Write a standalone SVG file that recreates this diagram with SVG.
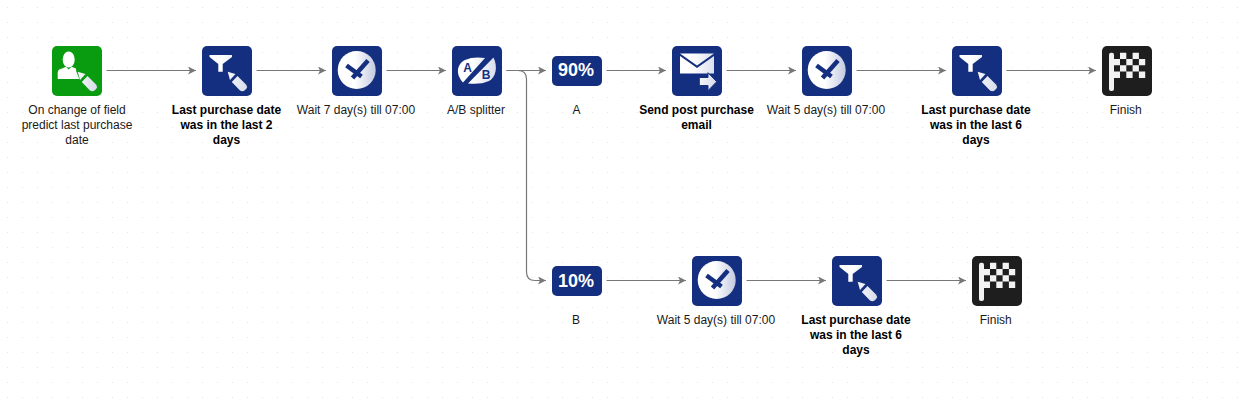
<svg xmlns="http://www.w3.org/2000/svg" width="1250" height="407" viewBox="0 0 1250 407">
<style>
.t{font-family:"Liberation Sans",Arial,sans-serif;font-size:12px;fill:#1a1a1a;text-anchor:middle}
.b{font-weight:bold;fill:#000}
.p{font-family:"Liberation Sans",Arial,sans-serif;font-size:18px;font-weight:bold;fill:#fff;text-anchor:middle}
.l{font-family:"Liberation Sans",Arial,sans-serif;font-size:12px;font-weight:bold;fill:#152f80;text-anchor:middle}
.c{fill:none;stroke:#777;stroke-width:1.2;marker-end:url(#arrow)}
.blue{fill:#152f80}
.w{fill:url(#gu)}
.h{fill:none;stroke:#152f80;stroke-width:4.500}
</style>
<defs>
<pattern id="dots" width="15" height="15" patternUnits="userSpaceOnUse"><rect x="7" y="7" width="1" height="1" fill="#e4e4e4"/></pattern>
<linearGradient id="g" x1="0" y1="0" x2="1" y2="0"><stop offset="0.45" stop-color="#fff"/><stop offset="1" stop-color="#c3cadf"/></linearGradient>
<linearGradient id="gu" gradientUnits="userSpaceOnUse" x1="0" y1="0" x2="50" y2="0"><stop offset="0.4" stop-color="#fff"/><stop offset="1" stop-color="#cfd5e6"/></linearGradient>
<marker id="arrow" markerUnits="userSpaceOnUse" markerWidth="10" markerHeight="10" refX="8" refY="4" orient="auto"><path d="M0 0L8 4L0 8L2 4Z" fill="#777"/></marker>
<g id="pencil"><path d="M25.700 25.700L33.500 28L28 34Z" class="w"/><path d="M35.500 30L29.800 36L38 44.500Q40.500 46 42.800 44.300L44.300 42.800Q45.800 40.500 44 38.500Z" class="w"/></g>
<g id="i-trigger"><rect width="50" height="50" rx="5" fill="#0a9c10"/><ellipse cx="16.700" cy="13.500" rx="6" ry="8" class="w"/><path d="M5.700 33V26.500Q6 23 10 22.500L14 20.800L16.700 23.500L19.500 20.800L24 22.500L24 24L29 33Z" class="w"/><path d="M24 24.500L34.500 27.500L28.500 36Z" fill="#0a9c10"/><use href="#pencil"/></g>
<g id="i-filter"><rect width="50" height="50" rx="5" class="blue"/><path d="M7.500 9H30V11L20.700 18V25.700H16.300V18L7.500 11Z" class="w"/><use href="#pencil"/></g>
<g id="i-clock"><rect width="50" height="50" rx="5" class="blue"/><circle cx="24.700" cy="24" r="19" fill="url(#g)"/><path class="h" d="M36 14.500L20.500 32"/><path class="h" d="M14.500 19.500L29.500 30.500"/></g>
<g id="i-ab"><rect width="50" height="50" rx="5" class="blue"/><path d="M11 36.500C3 28 5 18 13 14C19 11 27 11 33 12Z" class="w"/><path d="M41.500 11.500C46 21 44 31 37 35C30 38 24 38 16 37.500Z" class="w"/><text class="l" x="15.500" y="26">A</text><text class="l" x="34" y="33">B</text></g>
<g id="i-mail"><rect width="50" height="50" rx="5" class="blue"/><path d="M8 7.500H42L25 19.500Z" class="w"/><path d="M8 10L25 22L42 10V27.500H8Z" class="w"/><path d="M27.300 31.500H36V26.700L44.700 35.700L36 44.700V39.500H27.300Z" class="w" stroke="#152f80" stroke-width="1"/></g>
<g id="i-flag"><rect width="50" height="50" rx="5" fill="#1e1e1e"/><rect x="7" y="6.700" width="5" height="38.300" rx="2" fill="#f2f2f2"/><path fill="#f2f2f2" d="M18 6.700h6.300v6.300h-6.300zM30.600 6.700h6.300v6.300h-6.300zM12 13h6v6.300h-6zM24.300 13h6.300v6.300h-6.300zM36.900 13h6.300v6.300h-6.300zM18 19.300h6.300v6.300h-6.300zM30.600 19.300h6.300v6.300h-6.300zM12 25.600h6v6.300h-6zM24.300 25.600h6.300v6.300h-6.300zM36.900 25.600h6.300v6.300h-6.300z"/></g>
</defs>
<rect width="1250" height="407" fill="#fff"/>
<rect width="1250" height="407" fill="url(#dots)"/>
<g id="connectors">
<path class="c" d="M106.500 70.500H196"/>
<path class="c" d="M256.500 70.500H326"/>
<path class="c" d="M386.500 70.500H446"/>
<path class="c" d="M506.500 70.500H546"/>
<path class="c" d="M506.500 70.500H518Q526.500 70.500 526.500 79V272Q526.500 280.500 535 280.500H546"/>
<path class="c" d="M606.500 70.500H666"/>
<path class="c" d="M726.500 70.500H796"/>
<path class="c" d="M856.500 70.500H946"/>
<path class="c" d="M1006.500 70.500H1096"/>
<path class="c" d="M606.500 280.500H686"/>
<path class="c" d="M746.500 280.500H826"/>
<path class="c" d="M886.500 280.500H966"/>
</g>
<g id="n1"><use href="#i-trigger" x="52" y="46"/><text class="t" x="77" y="114">On change of field</text><text class="t" x="77" y="129">predict last purchase</text><text class="t" x="77" y="144">date</text></g>
<g id="n2"><use href="#i-filter" x="202" y="46"/><text class="t b" x="226.500" y="114">Last purchase date</text><text class="t b" x="226.500" y="129">was in the last 2</text><text class="t b" x="226.500" y="144">days</text></g>
<g id="n3"><use href="#i-clock" x="332" y="46"/><text class="t" x="356" y="114">Wait 7 day(s) till 07:00</text></g>
<g id="n4"><use href="#i-ab" x="452" y="46"/><text class="t" x="476" y="114">A/B splitter</text></g>
<g id="n5"><rect x="552" y="56" width="50" height="30" rx="5" class="blue"/><text class="p" x="576" y="76">90%</text><text class="t" x="576.500" y="114">A</text></g>
<g id="n6"><use href="#i-mail" x="672" y="46"/><text class="t b" x="696.500" y="114">Send post purchase</text><text class="t b" x="696.500" y="129">email</text></g>
<g id="n7"><use href="#i-clock" x="802" y="46"/><text class="t" x="826" y="114">Wait 5 day(s) till 07:00</text></g>
<g id="n8"><use href="#i-filter" x="952" y="46"/><text class="t b" x="976" y="114">Last purchase date</text><text class="t b" x="976" y="129">was in the last 6</text><text class="t b" x="976" y="144">days</text></g>
<g id="n9"><use href="#i-flag" x="1102" y="46"/><text class="t" x="1125.800" y="114">Finish</text></g>
<g id="n10"><rect x="552" y="266" width="50" height="30" rx="5" class="blue"/><text class="p" x="576" y="286.500">10%</text><text class="t" x="576" y="324">B</text></g>
<g id="n11"><use href="#i-clock" x="692" y="256"/><text class="t" x="716" y="324">Wait 5 day(s) till 07:00</text></g>
<g id="n12"><use href="#i-filter" x="832" y="256"/><text class="t b" x="856" y="324">Last purchase date</text><text class="t b" x="856" y="339">was in the last 6</text><text class="t b" x="856" y="354">days</text></g>
<g id="n13"><use href="#i-flag" x="972" y="256"/><text class="t" x="995.800" y="324">Finish</text></g>
</svg>
